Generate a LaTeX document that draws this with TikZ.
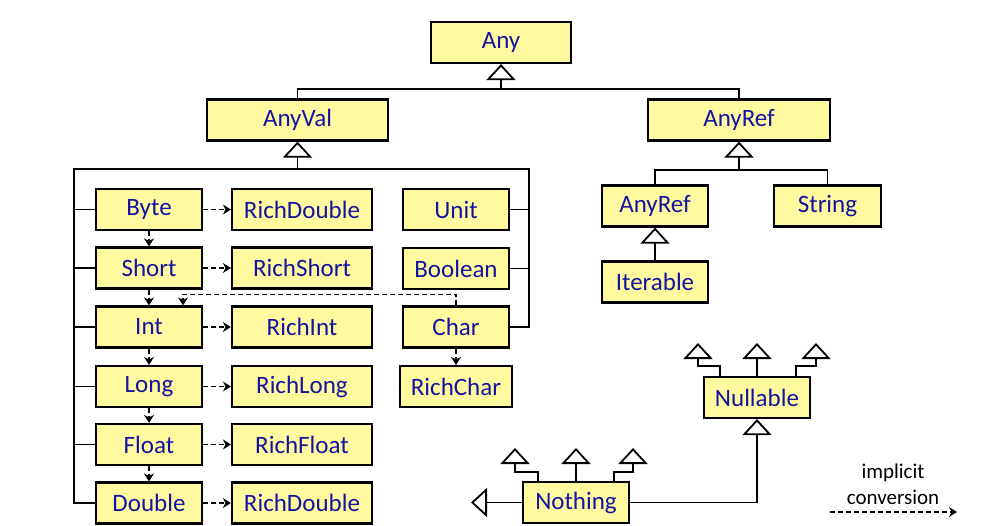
\documentclass[tikz,border=0pt]{standalone}
\usepackage{fontspec}
\setmainfont{Carlito}
\usetikzlibrary{arrows.meta}
\definecolor{boxfill}{RGB}{255,250,160}
\definecolor{txtblue}{RGB}{20,20,160}
\tikzset{
  cls/.style={draw=black, line width=2.2pt, fill=boxfill, text=txtblue, inner sep=0pt,
    minimum height=41pt, font=\fontsize{25}{28}\selectfont},
  small/.style={cls, minimum width=106pt},
  rich/.style={cls, minimum width=140pt},
  inh/.style={line width=1.8pt, -{Triangle[open, length=16pt, width=29pt, line width=1.8pt]}},
  conn/.style={line width=1.8pt},
  impl/.style={line width=1.6pt, dash pattern=on 5pt off 3pt, -{Stealth[length=8pt, width=10pt]}},
}
\begin{document}
\begin{tikzpicture}[x=1pt, y=-1pt]
\useasboundingbox (0,0) rectangle (1000,526);
% nodes
\node[cls, minimum width=140pt] (Any) at (501,42.5) {Any};
\node[cls, minimum width=181pt] (AnyVal) at (297.5,120) {AnyVal};
\node[cls, minimum width=182pt] (AnyRef) at (739,120) {AnyRef};
\node[small] (AnyRef2) at (655,206) {AnyRef};
\node[small, minimum width=107pt] (String) at (827.5,206) {String};
\node[small] (Iterable) at (655,282) {Iterable};
\node[small] (Byte) at (149,209.5) {Byte};
\node[small] (Short) at (149,268) {Short};
\node[small] (Int) at (149,327) {Int};
\node[small] (Long) at (149,386.5) {Long};
\node[small] (Float) at (149,444.5) {Float};
\node[small] (Double) at (149,503) {Double};
\node[rich] (RichDoubleA) at (302,209.5) {RichDouble};
\node[rich] (RichShort) at (302,268) {RichShort};
\node[rich] (RichInt) at (302,327) {RichInt};
\node[rich] (RichLong) at (302,386.5) {RichLong};
\node[rich] (RichFloat) at (302,444.5) {RichFloat};
\node[rich] (RichDoubleB) at (302,503) {RichDouble};
\node[small] (Unit) at (456,209.5) {Unit};
\node[small] (Boolean) at (456,268.5) {Boolean};
\node[small] (Char) at (456,327) {Char};
\node[small, minimum width=112pt] (RichChar) at (456,386.5) {RichChar};
\node[small] (Nullable) at (757,397.5) {Nullable};
\node[small] (Nothing) at (576,502.5) {Nothing};
% Any
\coordinate (j0) at (501,89);
\draw[conn] (AnyVal.north) |- (j0) -| (AnyRef.north);
\draw[inh] (j0) -- (Any.south);
% AnyVal
\coordinate (j1) at (297.5,169);
\coordinate (jl) at (74,169);
\coordinate (jr) at (529,169);
\draw[inh] (j1) -- (AnyVal.south);
\draw[conn] (Double.west) -| (jl) -- (jr) |- (Char.east);
\foreach \n in {Byte,Short,Int,Long,Float} \draw[conn] (\n.west) -- (\n.west -| jl);
\foreach \n in {Unit,Boolean} \draw[conn] (\n.east) -- (\n.east -| jr);
% AnyRef
\coordinate (j2) at (739,170);
\draw[conn] (AnyRef2.north) |- (j2) -| (String.north);
\draw[inh] (j2) -- (AnyRef.south);
\draw[inh] (Iterable.north) -- (AnyRef2.south);
% Nullable / Nothing
\draw[inh] (Nothing.east) -| (Nullable.south);
\coordinate (nl) at (471,502.5);
\draw[inh] (Nothing.west) -- (nl);
\coordinate (t1) at (515,448);
\coordinate (t2) at (576,448);
\coordinate (t3) at (633,448);
\draw[inh] ([xshift=16pt]Nothing.north west) -- ++(0,-9) -| (t1);
\draw[inh] (Nothing.north) -- (t2);
\draw[inh] ([xshift=-16pt]Nothing.north east) -- ++(0,-9) -| (t3);
\coordinate (u1) at (698,343);
\coordinate (u2) at (757,343);
\coordinate (u3) at (816,343);
\draw[inh] ([xshift=17pt]Nullable.north west) -- ++(0,-10) -| (u1);
\draw[inh] (Nullable.north) -- (u2);
\draw[inh] ([xshift=-15pt]Nullable.north east) -- ++(0,-10) -| (u3);
% implicit conversions
\draw[impl] (Byte.east) -- (RichDoubleA.west);
\draw[impl] (Short.east) -- (RichShort.west);
\draw[impl] (Int.east) -- (RichInt.west);
\draw[impl] (Long.east) -- (RichLong.west);
\draw[impl] (Float.east) -- (RichFloat.west);
\draw[impl] (Double.east) -- (RichDoubleB.west);
\draw[impl] (Byte.south) -- (Short.north);
\draw[impl] (Short.south) -- (Int.north);
\draw[impl] (Int.south) -- (Long.north);
\draw[impl] (Long.south) -- (Float.north);
\draw[impl] (Float.south) -- (Double.north);
\draw[impl] (Char.south) -- (RichChar.north);
\draw[impl] (Char.north) -- ++(0,-11) -| ([xshift=34pt]Int.north);
% legend
\node[align=center, font=\fontsize{21}{26}\selectfont, inner sep=0pt] (leg) at (893,484) {implicit\\conversion};
\coordinate (la) at (830,512);
\coordinate (lb) at (957,512);
\draw[impl] (la) -- (lb);
\end{tikzpicture}
\end{document}
